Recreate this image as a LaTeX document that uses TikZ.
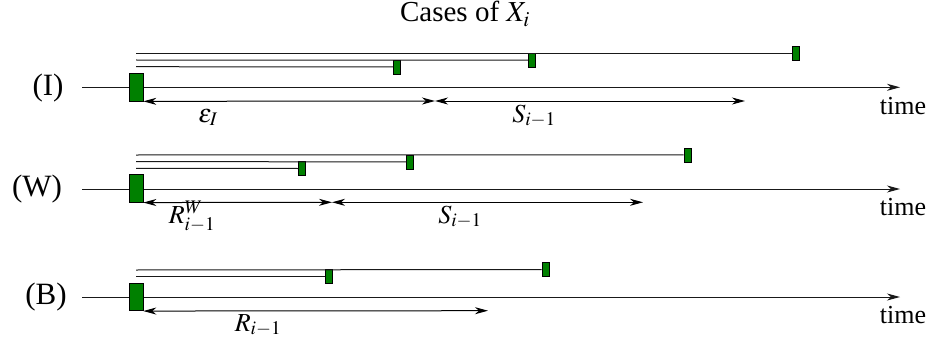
\documentclass[tikz,border=0pt]{standalone}
\usepackage{mathptmx}
\usepackage{fontspec}
\setmainfont{Liberation Serif}
\usetikzlibrary{arrows.meta}
\definecolor{boxgreen}{RGB}{0,128,0}
\begin{document}
\begin{tikzpicture}[x=1pt,y=-1pt,
  bigbox/.style={draw=black, fill=boxgreen, minimum width=14pt, minimum height=27.5pt, inner sep=0pt, line width=0.6pt},
  smallbox/.style={draw=black, fill=boxgreen, minimum width=7pt, minimum height=14pt, inner sep=0pt, line width=0.6pt},
  tl/.style={line width=1pt, draw=black!90},
  axisline/.style={line width=1pt, draw=black!90, -{Stealth[length=13pt,width=7pt,inset=4pt]}},
  spanarrow/.style={line width=1pt, {Stealth[length=13pt,width=7pt,inset=4pt]}-{Stealth[length=13pt,width=7pt,inset=4pt]}},
  lab/.style={font=\fontsize{26}{30}\selectfont, inner sep=0pt},
  titlelab/.style={font=\fontsize{29}{32}\selectfont, inner sep=0pt},
  rowlab/.style={font=\fontsize{31}{34}\selectfont, inner sep=0pt}]
\useasboundingbox (0,0) rectangle (929,345);

\node[titlelab, anchor=base] (title) at (465,22) {Cases of $X_i$};

% ---------- Row I ----------
\node[rowlab] (lI) at (48,88) {(I)};
\coordinate (aIs) at (82,87.3);
\coordinate (aIe) at (900,87.3);
\draw[axisline] (aIs) -- (aIe);
\coordinate (I1) at (136,53.3);
\coordinate (I2) at (136,60);
\coordinate (I3) at (136,66.7);
\node[smallbox] (Ib3) at (795.8,53.3) {};
\node[smallbox] (Ib2) at (532,60.2) {};
\node[smallbox] (Ib1) at (396.8,67) {};
\draw[tl] (I1) -- (Ib3.west);
\draw[tl] (I2) -- (Ib2.west);
\draw[tl] (I3) -- (Ib1.west);
\node[bigbox] (IB) at (136,87.3) {};
\coordinate (Im) at (435,101);
\coordinate (Ie) at (745,101);
\draw[spanarrow] (IB.south east) -- (Im);
\draw[spanarrow] (Im) -- (Ie);
\node[lab, anchor=base] (eps) at (208,122) {$\varepsilon_I$};
\node[lab, anchor=base] (SI) at (534,122) {$S_{i-1}$};
\node[lab, anchor=base] (tI) at (903,114) {time};

% ---------- Row W ----------
\node[rowlab] (lW) at (37,189) {(W)};
\coordinate (aWs) at (82,189);
\coordinate (aWe) at (900,189);
\draw[axisline] (aWs) -- (aWe);
\coordinate (W1) at (136,155);
\coordinate (W2) at (136,161.7);
\coordinate (W3) at (136,168.3);
\node[smallbox] (Wb3) at (687.3,154.8) {};
\node[smallbox] (Wb2) at (410.2,161.8) {};
\node[smallbox] (Wb1) at (302,168.5) {};
\draw[tl] (W1) -- (Wb3.west);
\draw[tl] (W2) -- (Wb2.west);
\draw[tl] (W3) -- (Wb1.west);
\node[bigbox] (WB) at (136,188.5) {};
\coordinate (Wm) at (332,202.3);
\coordinate (We) at (643,202.3);
\draw[spanarrow] (WB.south east) -- (Wm);
\draw[spanarrow] (Wm) -- (We);
\node[lab, anchor=base] (RW) at (192,223) {$R^W_{i-1}$};
\node[lab, anchor=base] (SW) at (460,223) {$S_{i-1}$};
\node[lab, anchor=base] (tW) at (903,215) {time};

% ---------- Row B ----------
\node[rowlab] (lB) at (46,297) {(B)};
\coordinate (aBs) at (82,297);
\coordinate (aBe) at (900,297);
\draw[axisline] (aBs) -- (aBe);
\coordinate (B1) at (136,270);
\coordinate (B2) at (136,276.7);
\node[smallbox] (Bb2) at (545.3,269.5) {};
\node[smallbox] (Bb1) at (329,276.7) {};
\draw[tl] (B1) -- (Bb2.west);
\draw[tl] (B2) -- (Bb1.west);
\node[bigbox] (BB) at (136,297) {};
\coordinate (Be) at (488,310.7);
\draw[spanarrow] (BB.south east) -- (Be);
\node[lab, anchor=base] (RB) at (258,331) {$R_{i-1}$};
\node[lab, anchor=base] (tB) at (903,323) {time};
\end{tikzpicture}
\end{document}
